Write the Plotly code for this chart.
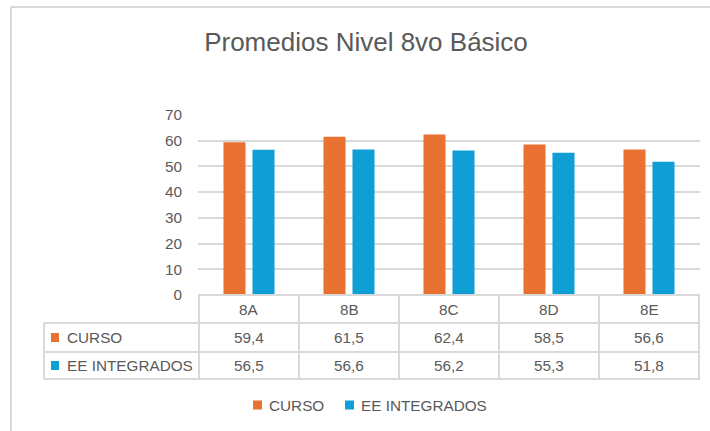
import plotly.graph_objects as go

categories = ["8A", "8B", "8C", "8D", "8E"]
curso = [59.4, 61.5, 62.4, 58.5, 56.6]
integrados = [56.5, 56.6, 56.2, 55.3, 51.8]
series_names = ["CURSO", "EE INTEGRADOS"]
colors = ["#E97132", "#0F9ED5"]
title_text = "Promedios Nivel 8vo Básico"

W, H = 710, 431
def px(x):
    return x / W
def py(y):
    return 1 - y / H

TXT = "#595959"
GRID = "#D9D9D9"
FONT = "Liberation Sans, Arial, sans-serif"
FS = 15.3

fig = go.Figure()
for name, vals, col in zip(series_names, [curso, integrados], colors):
    fig.add_trace(go.Bar(x=categories, y=vals, name=name, showlegend=False,
                         marker=dict(color=col, line=dict(width=0))))

shapes = []
annotations = []
shapes.append(dict(type="line", xref="paper", yref="paper", x0=px(11), x1=1.0, y0=py(7), y1=py(7), line=dict(color=GRID, width=2)))
shapes.append(dict(type="line", xref="paper", yref="paper", x0=px(11), x1=px(11), y0=py(7), y1=0, line=dict(color=GRID, width=2)))

row_y = [295, 323, 352, 379]
tl, tc = 44, 198
shapes.append(dict(type="line", xref="paper", yref="paper", x0=px(tc), x1=px(700), y0=py(295), y1=py(295), line=dict(color=GRID, width=2)))
for y in row_y[1:]:
    shapes.append(dict(type="line", xref="paper", yref="paper", x0=px(tl), x1=px(700), y0=py(y), y1=py(y), line=dict(color=GRID, width=2)))
shapes.append(dict(type="line", xref="paper", yref="paper", x0=px(tl), x1=px(tl), y0=py(323), y1=py(379), line=dict(color=GRID, width=2)))
n = len(categories)
for i in range(n + 1):
    shapes.append(dict(type="line", xref="x", yref="paper", x0=i - 0.5, x1=i - 0.5, y0=py(295), y1=py(379), line=dict(color=GRID, width=2)))

for i, c in enumerate(categories):
    annotations.append(dict(x=c, xref="x", y=py(309), yref="paper", text=c, showarrow=False, font=dict(size=FS, color=TXT, family=FONT), xanchor="center", yanchor="middle"))
for r, (name, vals, col) in enumerate(zip(series_names, [curso, integrados], colors)):
    yc = (row_y[r + 1] + row_y[r + 2]) / 2
    shapes.append(dict(type="rect", xref="paper", yref="paper", x0=px(51), x1=px(59), y0=py(yc - 4.5), y1=py(yc + 4.5), fillcolor=col, line=dict(width=0)))
    annotations.append(dict(x=px(65), xref="paper", y=py(yc), yref="paper", text=name, showarrow=False, font=dict(size=FS, color=TXT, family=FONT), xanchor="left", yanchor="middle"))
    for i, c in enumerate(categories):
        annotations.append(dict(x=c, xref="x", y=py(yc), yref="paper", text=f"{vals[i]:.1f}".replace(".", ","), showarrow=False, font=dict(size=FS, color=TXT, family=FONT), xanchor="center", yanchor="middle"))

leg_x = [253, 345]
for name, col, lx in zip(series_names, colors, leg_x):
    shapes.append(dict(type="rect", xref="paper", yref="paper", x0=px(lx), x1=px(lx + 9), y0=py(405 - 4.5), y1=py(405 + 4.5), fillcolor=col, line=dict(width=0)))
    annotations.append(dict(x=px(lx + 14), xref="paper", y=py(405), yref="paper", text=name, showarrow=False, font=dict(size=FS, color=TXT, family=FONT), xanchor="left", yanchor="middle"))

fig.update_layout(
    width=W, height=H, autosize=False,
    margin=dict(l=0, r=0, t=0, b=0, pad=0, autoexpand=False),
    paper_bgcolor="white", plot_bgcolor="white",
    barmode="group", bargap=0.42, bargroupgap=0.24,
    title=dict(text=title_text, x=px(366), xanchor="center", y=py(42), yanchor="middle",
               font=dict(size=26, color=TXT, family=FONT)),
    xaxis=dict(domain=[px(198), px(700)], showticklabels=False, showgrid=False, zeroline=False, showline=False, ticks="", automargin=False),
    yaxis=dict(domain=[py(295), py(115)], range=[0, 70], dtick=10, showgrid=True, gridcolor=GRID, gridwidth=2,
               zeroline=False, showline=False, ticks="", ticklabelstandoff=15, automargin=False,
               tickfont=dict(size=FS, color=TXT, family=FONT)),
    shapes=shapes, annotations=annotations,
)
fig.write_html("out.html", config={"displayModeBar": False},
               post_script="document.documentElement.style.margin='0px';document.body.style.margin='0px';document.body.style.padding='0px';document.body.style.overflow='hidden';")
